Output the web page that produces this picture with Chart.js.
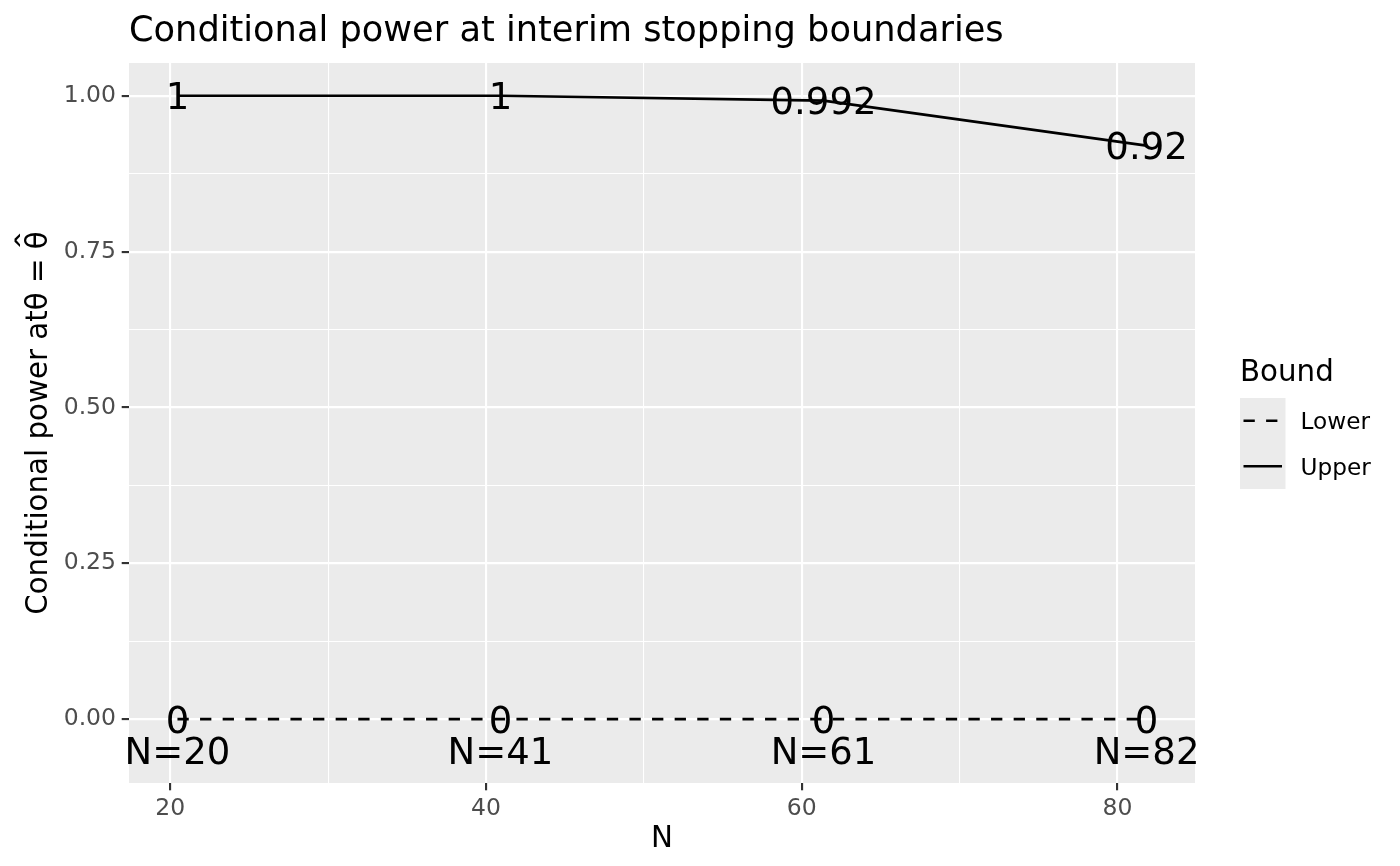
<!DOCTYPE html>
<html>
<head>
<meta charset="utf-8">
<script src="https://cdn.jsdelivr.net/npm/chart.js@4.4.0/dist/chart.umd.min.js"></script>
<style>
body{margin:0;background:#fff}
#wrap{width:1400px;height:866px}
</style>
</head>
<body>
<div id="wrap"><canvas id="cpCanvas"></canvas></div>
<script>
// data
var nValues = [20.46, 40.92, 61.38, 81.84];
var nLabels = ['N=20', 'N=41', 'N=61', 'N=82'];
var upperPower = [1, 1, 0.992, 0.92];
var lowerPower = [0, 0, 0, 0];
var upperText = ['1', '1', '0.992', '0.92'];
var lowerText = ['0', '0', '0', '0'];
var nLabelY = -0.05;
var boundNames = ['Lower', 'Upper'];
// axis ticks (major with labels, minor only grid)
var xMajor = [20, 40, 60, 80];
var xMinor = [30, 50, 70];
var yMajor = [0, 0.25, 0.5, 0.75, 1];
var yMinor = [0.125, 0.375, 0.625, 0.875];

var FONT = '"DejaVu Sans", sans-serif';
var LW = 2.7;
var DASH = [11.3, 11.3];

function pts(ys) {
	return nValues.map(function (n, i) { return {x: n, y: ys[i]}; });
}

//panel background
var panelBg = {
	id: 'panelBg',
	beforeDraw: function (chart) {
		var a = chart.chartArea, ctx = chart.ctx;
		ctx.save();
		ctx.fillStyle = '#EBEBEB';
		ctx.fillRect(a.left, a.top, a.right - a.left, a.bottom - a.top);
		ctx.restore();
	}
};

//text labels on the points
var pointText = {
	id: 'pointText',
	afterDatasetsDraw: function (chart) {
		var ctx = chart.ctx, x = chart.scales.x, y = chart.scales.y;
		var fs = 37, off = fs * 0.3645;
		ctx.save();
		ctx.font = fs + 'px ' + FONT;
		ctx.fillStyle = '#000';
		ctx.textAlign = 'center';
		ctx.textBaseline = 'alphabetic';
		for (var i = 0; i < nValues.length; i++) {
			var px = x.getPixelForValue(nValues[i]);
			ctx.fillText(upperText[i], px, y.getPixelForValue(upperPower[i]) + off);
			ctx.fillText(lowerText[i], px, y.getPixelForValue(lowerPower[i]) + off);
			ctx.fillText(nLabels[i], px, y.getPixelForValue(nLabelY) + off);
		}
		ctx.restore();
	}
};

//titles and legend
var decor = {
	id: 'decor',
	afterDraw: function (chart) {
		var ctx = chart.ctx, a = chart.chartArea;
		ctx.save();
		ctx.fillStyle = '#000';
		ctx.textBaseline = 'alphabetic';
		//main title
		ctx.font = '35.2px ' + FONT;
		ctx.textAlign = 'left';
		ctx.fillText('Conditional power at interim stopping boundaries', a.left, 40.5);
		//x title
		ctx.font = '29.3px ' + FONT;
		ctx.textAlign = 'center';
		ctx.fillText('N', (a.left + a.right) / 2, 846.5);
		//y title (theta with a wide hat on the end)
		var yt = 'Conditional power at\u03B8 = \u03B8';
		ctx.save();
		ctx.translate(46.5, (a.top + a.bottom) / 2);
		ctx.rotate(-Math.PI / 2);
		var w = ctx.measureText(yt).width;
		var thW = ctx.measureText('\u03B8').width;
		ctx.textAlign = 'left';
		ctx.fillText(yt, -w / 2, 0);
		ctx.translate(w / 2 - thW / 2, -8);
		ctx.scale(1.5, 1);
		ctx.textAlign = 'center';
		ctx.fillText('\u02C6', 0, 0);
		ctx.restore();
		//legend
		var lx = 1240, ly = 398, kw = 45.5, kh = 45.5;
		ctx.textAlign = 'left';
		ctx.fillText('Bound', lx, 380.5);
		ctx.fillStyle = '#EBEBEB';
		ctx.fillRect(lx, ly, kw, kh * boundNames.length);
		ctx.font = '23.2px ' + FONT;
		chart.data.datasets.forEach(function (ds, i) {
			var cy = ly + kh * i + kh / 2;
			ctx.strokeStyle = '#000';
			ctx.lineWidth = LW;
			ctx.setLineDash(ds.borderDash || []);
			ctx.beginPath();
			ctx.moveTo(lx + 3.5, cy);
			ctx.lineTo(lx + kw - 3.5, cy);
			ctx.stroke();
			ctx.setLineDash([]);
			ctx.fillStyle = '#000';
			ctx.fillText(ds.label, lx + kw + 15, cy + 23.2 * 0.3645);
		});
		ctx.restore();
	}
};

function gridOpts() {
	return {
		color: '#FFFFFF',
		lineWidth: function (c) { return c.tick && c.tick.major ? 2.13 : 1.07; },
		drawTicks: true,
		tickLength: 7.3,
		tickWidth: 2.13,
		tickColor: function (c) { return c.tick && c.tick.major ? '#333333' : 'rgba(0,0,0,0)'; }
	};
}

var ctx = document.getElementById('cpCanvas').getContext('2d');
var chart = new Chart(ctx, {
	type: 'line',
	data: {
		datasets: [
			{label: boundNames[0], data: pts(lowerPower), borderColor: '#000', borderWidth: LW,
				borderDash: DASH, pointRadius: 0, tension: 0, fill: false},
			{label: boundNames[1], data: pts(upperPower), borderColor: '#000', borderWidth: LW,
				pointRadius: 0, tension: 0, fill: false}
		]
	},
	options: {
		responsive: true,
		maintainAspectRatio: false,
		animation: false,
		layout: {padding: {left: 0, right: 205, top: 63, bottom: 0}},
		plugins: {legend: {display: false}, tooltip: {enabled: false}, title: {display: false}},
		scales: {
			x: {
				type: 'linear',
				min: 17.391,
				max: 84.909,
				afterBuildTicks: function (s) {
					s.ticks = xMajor.concat(xMinor).sort(function (p, q) { return p - q; })
						.map(function (v) { return {value: v, major: xMajor.indexOf(v) >= 0}; });
				},
				afterFit: function (s) { s.height = 83; },
				ticks: {
					autoSkip: false, maxRotation: 0, padding: 4, color: '#4D4D4D',
					font: {family: FONT, size: 23.5},
					callback: function (v) { return xMajor.indexOf(v) >= 0 ? String(v) : ''; }
				},
				grid: gridOpts(),
				border: {display: false}
			},
			y: {
				type: 'linear',
				min: -0.1025,
				max: 1.0525,
				afterBuildTicks: function (s) {
					s.ticks = yMajor.concat(yMinor).sort(function (p, q) { return p - q; })
						.map(function (v) { return {value: v, major: yMajor.indexOf(v) >= 0}; });
				},
				afterFit: function (s) { s.width = 129; },
				ticks: {
					autoSkip: false, padding: 5.7, color: '#4D4D4D',
					font: {family: FONT, size: 23.5},
					callback: function (v) { return yMajor.indexOf(v) >= 0 ? v.toFixed(2) : ''; }
				},
				grid: gridOpts(),
				border: {display: false}
			}
		}
	},
	plugins: [panelBg, pointText, decor]
});
</script>
</body>
</html>
